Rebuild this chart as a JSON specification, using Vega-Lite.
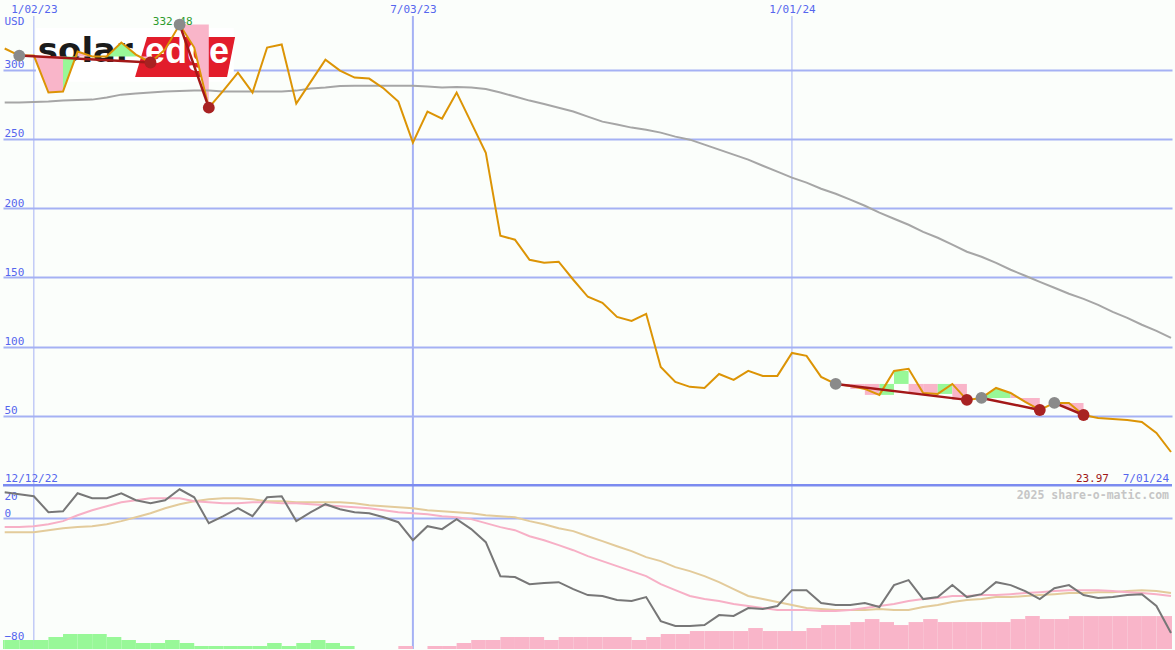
{
  "$schema": "https://vega.github.io/schema/vega-lite/v6.json",
  "width": 1175,
  "height": 650,
  "autosize": {"type": "fit", "contains": "padding"},
  "padding": 0,
  "background": "#fbfefb",
  "config": {"view": {"stroke": null}},
  "datasets": {
    "ticks": [{"g": "2023-01-02"}, {"g": "2023-07-03"}, {"g": "2024-01-01"}],
    "wk": [
      {"d": "2022-12-19", "p": 315.2, "m": 276.2, "o": 16.9, "k": -5.8, "t": -9.1},
      {"d": "2022-12-26", "p": 310.1, "m": 276.2, "o": 15.6, "k": -5.8, "t": -9.1},
      {"d": "2023-01-02", "p": 310.1, "m": 276.5, "o": 14.3, "k": -5.2, "t": -9.1},
      {"d": "2023-01-09", "p": 283.4, "m": 276.9, "o": 3.9, "k": -3.9, "t": -7.8},
      {"d": "2023-01-16", "p": 284.1, "m": 277.6, "o": 4.5, "k": -1.9, "t": -6.5},
      {"d": "2023-01-23", "p": 313.0, "m": 278.0, "o": 16.2, "k": 1.9, "t": -5.8},
      {"d": "2023-01-30", "p": 309.4, "m": 278.3, "o": 13.0, "k": 5.2, "t": -5.2},
      {"d": "2023-02-06", "p": 309.4, "m": 279.8, "o": 13.0, "k": 7.8, "t": -3.9},
      {"d": "2023-02-13", "p": 319.5, "m": 281.9, "o": 16.2, "k": 10.4, "t": -1.9},
      {"d": "2023-02-20", "p": 310.8, "m": 282.7, "o": 11.7, "k": 11.7, "t": 0.6},
      {"d": "2023-02-27", "p": 305.1, "m": 283.4, "o": 9.7, "k": 13.0, "t": 3.2},
      {"d": "2023-03-06", "p": 314.5, "m": 284.1, "o": 11.7, "k": 13.0, "t": 6.5},
      {"d": "2023-03-13", "p": 332.48, "m": 284.5, "o": 18.8, "k": 13.0, "t": 9.1},
      {"d": "2023-03-20", "p": 315.9, "m": 284.8, "o": 13.6, "k": 11.0, "t": 11.0},
      {"d": "2023-03-27", "p": 272.5, "m": 284.8, "o": -3.2, "k": 10.4, "t": 12.3},
      {"d": "2023-04-03", "p": 284.8, "m": 284.1, "o": 1.3, "k": 9.7, "t": 13.0},
      {"d": "2023-04-10", "p": 297.8, "m": 284.1, "o": 6.5, "k": 9.7, "t": 13.0},
      {"d": "2023-04-17", "p": 283.4, "m": 284.1, "o": 1.3, "k": 10.4, "t": 12.3},
      {"d": "2023-04-24", "p": 315.9, "m": 284.1, "o": 13.6, "k": 10.4, "t": 11.0},
      {"d": "2023-05-01", "p": 318.1, "m": 284.1, "o": 14.3, "k": 9.7, "t": 11.0},
      {"d": "2023-05-08", "p": 275.4, "m": 284.8, "o": -1.9, "k": 9.7, "t": 10.4},
      {"d": "2023-05-15", "p": 291.3, "m": 286.3, "o": 3.9, "k": 9.1, "t": 10.4},
      {"d": "2023-05-22", "p": 307.2, "m": 287.0, "o": 9.1, "k": 8.4, "t": 10.4},
      {"d": "2023-05-29", "p": 299.3, "m": 288.1, "o": 5.8, "k": 7.8, "t": 10.4},
      {"d": "2023-06-05", "p": 294.2, "m": 288.4, "o": 3.9, "k": 7.1, "t": 9.7},
      {"d": "2023-06-12", "p": 293.5, "m": 288.4, "o": 3.2, "k": 6.5, "t": 8.4},
      {"d": "2023-06-19", "p": 286.3, "m": 288.4, "o": 0.6, "k": 5.2, "t": 7.8},
      {"d": "2023-06-26", "p": 276.9, "m": 288.4, "o": -2.6, "k": 3.9, "t": 7.1},
      {"d": "2023-07-03", "p": 247.3, "m": 288.4, "o": -14.3, "k": 3.2, "t": 6.5},
      {"d": "2023-07-10", "p": 269.7, "m": 287.7, "o": -5.2, "k": 2.6, "t": 5.2},
      {"d": "2023-07-17", "p": 264.6, "m": 287.0, "o": -7.1, "k": 1.3, "t": 4.5},
      {"d": "2023-07-24", "p": 283.4, "m": 287.4, "o": -0.6, "k": 0.6, "t": 3.9},
      {"d": "2023-07-31", "p": 261.7, "m": 287.0, "o": -7.1, "k": -0.6, "t": 3.2},
      {"d": "2023-08-07", "p": 240.0, "m": 285.9, "o": -15.6, "k": -3.2, "t": 1.9},
      {"d": "2023-08-14", "p": 180.1, "m": 283.4, "o": -37.7, "k": -5.8, "t": 1.3},
      {"d": "2023-08-21", "p": 177.2, "m": 280.5, "o": -38.3, "k": -7.8, "t": 0.6},
      {"d": "2023-08-28", "p": 162.7, "m": 277.6, "o": -42.9, "k": -11.7, "t": -1.9},
      {"d": "2023-09-04", "p": 160.5, "m": 275.1, "o": -42.2, "k": -14.3, "t": -3.9},
      {"d": "2023-09-11", "p": 161.3, "m": 272.5, "o": -41.6, "k": -17.5, "t": -6.5},
      {"d": "2023-09-18", "p": 148.3, "m": 269.7, "o": -46.1, "k": -20.8, "t": -8.4},
      {"d": "2023-09-25", "p": 136.0, "m": 266.0, "o": -50.0, "k": -24.7, "t": -11.7},
      {"d": "2023-10-02", "p": 131.6, "m": 262.4, "o": -50.6, "k": -27.9, "t": -14.9},
      {"d": "2023-10-09", "p": 121.5, "m": 260.3, "o": -53.2, "k": -31.2, "t": -18.2},
      {"d": "2023-10-16", "p": 118.6, "m": 258.1, "o": -53.9, "k": -34.4, "t": -21.4},
      {"d": "2023-10-23", "p": 123.7, "m": 256.6, "o": -51.3, "k": -37.7, "t": -25.3},
      {"d": "2023-10-30", "p": 85.4, "m": 254.5, "o": -66.9, "k": -42.9, "t": -27.9},
      {"d": "2023-11-06", "p": 74.6, "m": 251.6, "o": -70.1, "k": -46.8, "t": -31.8},
      {"d": "2023-11-13", "p": 71.0, "m": 249.4, "o": -70.1, "k": -50.6, "t": -34.4},
      {"d": "2023-11-20", "p": 70.2, "m": 245.8, "o": -69.5, "k": -52.6, "t": -37.7},
      {"d": "2023-11-27", "p": 80.3, "m": 242.2, "o": -63.0, "k": -53.9, "t": -41.6},
      {"d": "2023-12-04", "p": 76.0, "m": 238.6, "o": -63.6, "k": -55.8, "t": -46.1},
      {"d": "2023-12-11", "p": 82.5, "m": 235.0, "o": -58.4, "k": -57.1, "t": -50.6},
      {"d": "2023-12-18", "p": 78.9, "m": 230.6, "o": -59.1, "k": -58.4, "t": -52.6},
      {"d": "2023-12-25", "p": 78.9, "m": 226.3, "o": -57.1, "k": -59.7, "t": -54.5},
      {"d": "2024-01-01", "p": 95.5, "m": 222.0, "o": -46.8, "k": -59.7, "t": -56.5},
      {"d": "2024-01-08", "p": 93.4, "m": 218.4, "o": -46.8, "k": -59.7, "t": -58.4},
      {"d": "2024-01-15", "p": 78.2, "m": 214.0, "o": -55.2, "k": -60.4, "t": -59.1},
      {"d": "2024-01-22", "p": 73.1, "m": 210.4, "o": -56.5, "k": -60.4, "t": -59.7},
      {"d": "2024-01-29", "p": 71.7, "m": 206.1, "o": -56.5, "k": -59.7, "t": -59.7},
      {"d": "2024-02-05", "p": 69.5, "m": 201.7, "o": -55.2, "k": -58.4, "t": -59.7},
      {"d": "2024-02-12", "p": 65.2, "m": 196.7, "o": -57.8, "k": -57.1, "t": -59.1},
      {"d": "2024-02-19", "p": 82.5, "m": 192.3, "o": -43.5, "k": -55.8, "t": -59.7},
      {"d": "2024-02-26", "p": 84.0, "m": 188.0, "o": -40.3, "k": -53.9, "t": -59.7},
      {"d": "2024-03-04", "p": 66.6, "m": 182.9, "o": -52.6, "k": -52.6, "t": -57.8},
      {"d": "2024-03-11", "p": 65.9, "m": 178.6, "o": -51.3, "k": -51.9, "t": -56.5},
      {"d": "2024-03-18", "p": 73.1, "m": 173.6, "o": -43.5, "k": -50.6, "t": -54.5},
      {"d": "2024-03-25", "p": 61.6, "m": 168.5, "o": -51.3, "k": -50.6, "t": -53.2},
      {"d": "2024-04-01", "p": 63.0, "m": 164.9, "o": -49.4, "k": -50.0, "t": -52.6},
      {"d": "2024-04-08", "p": 70.2, "m": 160.5, "o": -41.6, "k": -50.0, "t": -51.3},
      {"d": "2024-04-15", "p": 66.6, "m": 155.5, "o": -43.5, "k": -49.4, "t": -51.3},
      {"d": "2024-04-22", "p": 60.1, "m": 151.2, "o": -47.4, "k": -48.7, "t": -50.6},
      {"d": "2024-04-29", "p": 54.3, "m": 146.8, "o": -52.6, "k": -48.1, "t": -50.0},
      {"d": "2024-05-06", "p": 59.4, "m": 142.5, "o": -45.5, "k": -47.4, "t": -49.4},
      {"d": "2024-05-13", "p": 59.4, "m": 138.2, "o": -43.5, "k": -46.8, "t": -48.7},
      {"d": "2024-05-20", "p": 50.7, "m": 134.5, "o": -50.0, "k": -46.8, "t": -48.7},
      {"d": "2024-05-27", "p": 48.6, "m": 130.2, "o": -51.9, "k": -46.8, "t": -48.1},
      {"d": "2024-06-03", "p": 47.8, "m": 125.1, "o": -51.3, "k": -47.4, "t": -48.1},
      {"d": "2024-06-10", "p": 47.1, "m": 120.8, "o": -50.0, "k": -48.1, "t": -47.4},
      {"d": "2024-06-17", "p": 45.7, "m": 115.8, "o": -49.4, "k": -48.7, "t": -46.8},
      {"d": "2024-06-24", "p": 37.7, "m": 111.4, "o": -57.1, "k": -49.4, "t": -47.4},
      {"d": "2024-07-01", "p": 23.97, "m": 106.4, "o": -74.7, "k": -50.6, "t": -48.7}
    ],
    "hist": [
      {"d": "2022-12-12", "e": "2022-12-19", "h": 3, "c": "up"},
      {"d": "2022-12-19", "e": "2022-12-26", "h": 3, "c": "up"},
      {"d": "2022-12-26", "e": "2023-01-02", "h": 3, "c": "up"},
      {"d": "2023-01-02", "e": "2023-01-09", "h": 3, "c": "up"},
      {"d": "2023-01-09", "e": "2023-01-16", "h": 4, "c": "up"},
      {"d": "2023-01-16", "e": "2023-01-23", "h": 5, "c": "up"},
      {"d": "2023-01-23", "e": "2023-01-30", "h": 5, "c": "up"},
      {"d": "2023-01-30", "e": "2023-02-06", "h": 5, "c": "up"},
      {"d": "2023-02-06", "e": "2023-02-13", "h": 4, "c": "up"},
      {"d": "2023-02-13", "e": "2023-02-20", "h": 3, "c": "up"},
      {"d": "2023-02-20", "e": "2023-02-27", "h": 2, "c": "up"},
      {"d": "2023-02-27", "e": "2023-03-06", "h": 2, "c": "up"},
      {"d": "2023-03-06", "e": "2023-03-13", "h": 3, "c": "up"},
      {"d": "2023-03-13", "e": "2023-03-20", "h": 2, "c": "up"},
      {"d": "2023-03-20", "e": "2023-03-27", "h": 1, "c": "up"},
      {"d": "2023-03-27", "e": "2023-04-03", "h": 1, "c": "up"},
      {"d": "2023-04-03", "e": "2023-04-10", "h": 1, "c": "up"},
      {"d": "2023-04-10", "e": "2023-04-17", "h": 1, "c": "up"},
      {"d": "2023-04-17", "e": "2023-04-24", "h": 1, "c": "up"},
      {"d": "2023-04-24", "e": "2023-05-01", "h": 2, "c": "up"},
      {"d": "2023-05-01", "e": "2023-05-08", "h": 1, "c": "up"},
      {"d": "2023-05-08", "e": "2023-05-15", "h": 2, "c": "up"},
      {"d": "2023-05-15", "e": "2023-05-22", "h": 3, "c": "up"},
      {"d": "2023-05-22", "e": "2023-05-29", "h": 2, "c": "up"},
      {"d": "2023-05-29", "e": "2023-06-05", "h": 1, "c": "up"},
      {"d": "2023-06-26", "e": "2023-07-03", "h": 1, "c": "down"},
      {"d": "2023-07-10", "e": "2023-07-17", "h": 1, "c": "down"},
      {"d": "2023-07-17", "e": "2023-07-24", "h": 1, "c": "down"},
      {"d": "2023-07-24", "e": "2023-07-31", "h": 2, "c": "down"},
      {"d": "2023-07-31", "e": "2023-08-07", "h": 3, "c": "down"},
      {"d": "2023-08-07", "e": "2023-08-14", "h": 3, "c": "down"},
      {"d": "2023-08-14", "e": "2023-08-21", "h": 4, "c": "down"},
      {"d": "2023-08-21", "e": "2023-08-28", "h": 4, "c": "down"},
      {"d": "2023-08-28", "e": "2023-09-04", "h": 4, "c": "down"},
      {"d": "2023-09-04", "e": "2023-09-11", "h": 3, "c": "down"},
      {"d": "2023-09-11", "e": "2023-09-18", "h": 4, "c": "down"},
      {"d": "2023-09-18", "e": "2023-09-25", "h": 4, "c": "down"},
      {"d": "2023-09-25", "e": "2023-10-02", "h": 4, "c": "down"},
      {"d": "2023-10-02", "e": "2023-10-09", "h": 4, "c": "down"},
      {"d": "2023-10-09", "e": "2023-10-16", "h": 4, "c": "down"},
      {"d": "2023-10-16", "e": "2023-10-23", "h": 3, "c": "down"},
      {"d": "2023-10-23", "e": "2023-10-30", "h": 4, "c": "down"},
      {"d": "2023-10-30", "e": "2023-11-06", "h": 5, "c": "down"},
      {"d": "2023-11-06", "e": "2023-11-13", "h": 5, "c": "down"},
      {"d": "2023-11-13", "e": "2023-11-20", "h": 6, "c": "down"},
      {"d": "2023-11-20", "e": "2023-11-27", "h": 6, "c": "down"},
      {"d": "2023-11-27", "e": "2023-12-04", "h": 6, "c": "down"},
      {"d": "2023-12-04", "e": "2023-12-11", "h": 6, "c": "down"},
      {"d": "2023-12-11", "e": "2023-12-18", "h": 7, "c": "down"},
      {"d": "2023-12-18", "e": "2023-12-25", "h": 6, "c": "down"},
      {"d": "2023-12-25", "e": "2024-01-01", "h": 6, "c": "down"},
      {"d": "2024-01-01", "e": "2024-01-08", "h": 6, "c": "down"},
      {"d": "2024-01-08", "e": "2024-01-15", "h": 7, "c": "down"},
      {"d": "2024-01-15", "e": "2024-01-22", "h": 8, "c": "down"},
      {"d": "2024-01-22", "e": "2024-01-29", "h": 8, "c": "down"},
      {"d": "2024-01-29", "e": "2024-02-05", "h": 9, "c": "down"},
      {"d": "2024-02-05", "e": "2024-02-12", "h": 10, "c": "down"},
      {"d": "2024-02-12", "e": "2024-02-19", "h": 9, "c": "down"},
      {"d": "2024-02-19", "e": "2024-02-26", "h": 8, "c": "down"},
      {"d": "2024-02-26", "e": "2024-03-04", "h": 9, "c": "down"},
      {"d": "2024-03-04", "e": "2024-03-11", "h": 10, "c": "down"},
      {"d": "2024-03-11", "e": "2024-03-18", "h": 9, "c": "down"},
      {"d": "2024-03-18", "e": "2024-03-25", "h": 9, "c": "down"},
      {"d": "2024-03-25", "e": "2024-04-01", "h": 9, "c": "down"},
      {"d": "2024-04-01", "e": "2024-04-08", "h": 9, "c": "down"},
      {"d": "2024-04-08", "e": "2024-04-15", "h": 9, "c": "down"},
      {"d": "2024-04-15", "e": "2024-04-22", "h": 10, "c": "down"},
      {"d": "2024-04-22", "e": "2024-04-29", "h": 11, "c": "down"},
      {"d": "2024-04-29", "e": "2024-05-06", "h": 10, "c": "down"},
      {"d": "2024-05-06", "e": "2024-05-13", "h": 10, "c": "down"},
      {"d": "2024-05-13", "e": "2024-05-20", "h": 11, "c": "down"},
      {"d": "2024-05-20", "e": "2024-05-27", "h": 11, "c": "down"},
      {"d": "2024-05-27", "e": "2024-06-03", "h": 11, "c": "down"},
      {"d": "2024-06-03", "e": "2024-06-10", "h": 11, "c": "down"},
      {"d": "2024-06-10", "e": "2024-06-17", "h": 11, "c": "down"},
      {"d": "2024-06-17", "e": "2024-06-24", "h": 11, "c": "down"},
      {"d": "2024-06-24", "e": "2024-07-01", "h": 11, "c": "down"},
      {"d": "2024-07-01", "e": "2024-07-08", "h": 11, "c": "down"}
    ],
    "fills": [
      {"g": 1, "c": "down", "d": "2023-01-02", "a": 309.4, "b": 310.1},
      {"g": 1, "c": "down", "d": "2023-01-09", "a": 309.4, "b": 283.4},
      {"g": 1, "c": "down", "d": "2023-01-16", "a": 309.4, "b": 284.1},
      {"g": 2, "c": "up", "d": "2023-01-16", "a": 309.4, "b": 284.1},
      {"g": 2, "c": "up", "d": "2023-01-23", "a": 309.4, "b": 313.0},
      {"g": 3, "c": "down", "d": "2023-01-23", "a": 309.4, "b": 313.0},
      {"g": 3, "c": "down", "d": "2023-01-30", "a": 309.4, "b": 309.4},
      {"g": 4, "c": "up", "d": "2023-02-06", "a": 309.4, "b": 309.4},
      {"g": 4, "c": "up", "d": "2023-02-13", "a": 309.4, "b": 319.5},
      {"g": 4, "c": "up", "d": "2023-02-20", "a": 309.4, "b": 310.8},
      {"g": 5, "c": "down", "d": "2023-02-20", "a": 309.4, "b": 310.8},
      {"g": 5, "c": "down", "d": "2023-02-27", "a": 309.4, "b": 305.1},
      {"g": 6, "c": "down", "d": "2023-03-13", "a": 332.48, "b": 332.48},
      {"g": 6, "c": "down", "d": "2023-03-20", "a": 332.48, "b": 315.9},
      {"g": 6, "c": "down", "d": "2023-03-27", "a": 332.48, "b": 272.5},
      {"g": 7, "c": "down", "d": "2024-01-22", "a": 73.1, "b": 71.7},
      {"g": 7, "c": "down", "d": "2024-01-29", "a": 73.1, "b": 71.7},
      {"g": 8, "c": "down", "d": "2024-01-29", "a": 73.1, "b": 69.5},
      {"g": 8, "c": "down", "d": "2024-02-05", "a": 73.1, "b": 69.5},
      {"g": 9, "c": "down", "d": "2024-02-05", "a": 73.1, "b": 65.2},
      {"g": 9, "c": "down", "d": "2024-02-12", "a": 73.1, "b": 65.2},
      {"g": 10, "c": "up", "d": "2024-02-12", "a": 73.1, "b": 65.2},
      {"g": 10, "c": "up", "d": "2024-02-19", "a": 73.1, "b": 65.2},
      {"g": 11, "c": "up", "d": "2024-02-19", "a": 73.1, "b": 82.5},
      {"g": 11, "c": "up", "d": "2024-02-26", "a": 73.1, "b": 82.5},
      {"g": 12, "c": "down", "d": "2024-02-26", "a": 73.1, "b": 66.6},
      {"g": 12, "c": "down", "d": "2024-03-04", "a": 73.1, "b": 66.6},
      {"g": 13, "c": "down", "d": "2024-03-04", "a": 73.1, "b": 65.9},
      {"g": 13, "c": "down", "d": "2024-03-11", "a": 73.1, "b": 65.9},
      {"g": 14, "c": "up", "d": "2024-03-11", "a": 73.1, "b": 65.9},
      {"g": 14, "c": "up", "d": "2024-03-18", "a": 73.1, "b": 65.9},
      {"g": 15, "c": "down", "d": "2024-03-18", "a": 73.1, "b": 61.6},
      {"g": 15, "c": "down", "d": "2024-03-25", "a": 73.1, "b": 61.6},
      {"g": 16, "c": "up", "d": "2024-04-01", "a": 63.0, "b": 63.0},
      {"g": 16, "c": "up", "d": "2024-04-08", "a": 63.0, "b": 70.2},
      {"g": 16, "c": "up", "d": "2024-04-15", "a": 63.0, "b": 66.6},
      {"g": 17, "c": "down", "d": "2024-04-15", "a": 63.0, "b": 66.6},
      {"g": 17, "c": "down", "d": "2024-04-22", "a": 63.0, "b": 60.1},
      {"g": 17, "c": "down", "d": "2024-04-29", "a": 63.0, "b": 54.3},
      {"g": 18, "c": "down", "d": "2024-05-06", "a": 59.4, "b": 59.4},
      {"g": 18, "c": "down", "d": "2024-05-13", "a": 59.4, "b": 55.4},
      {"g": 18, "c": "down", "d": "2024-05-20", "a": 59.4, "b": 50.7}
    ],
    "trend": [
      {"g": 1, "d": "2022-12-26", "v": 310.1},
      {"g": 1, "d": "2023-02-27", "v": 305.1},
      {"g": 2, "d": "2023-03-13", "v": 332.48},
      {"g": 2, "d": "2023-03-27", "v": 272.5},
      {"g": 3, "d": "2024-01-22", "v": 73.1},
      {"g": 3, "d": "2024-03-25", "v": 61.6},
      {"g": 4, "d": "2024-04-01", "v": 63.0},
      {"g": 4, "d": "2024-04-29", "v": 54.3},
      {"g": 5, "d": "2024-05-06", "v": 59.4},
      {"g": 5, "d": "2024-05-20", "v": 50.7}
    ],
    "dots": [
      {"k": "s", "d": "2022-12-26", "v": 310.1},
      {"k": "e", "d": "2023-02-27", "v": 305.1},
      {"k": "s", "d": "2023-03-13", "v": 332.48},
      {"k": "e", "d": "2023-03-27", "v": 272.5},
      {"k": "s", "d": "2024-01-22", "v": 73.1},
      {"k": "e", "d": "2024-03-25", "v": 61.6},
      {"k": "s", "d": "2024-04-01", "v": 63.0},
      {"k": "e", "d": "2024-04-29", "v": 54.3},
      {"k": "s", "d": "2024-05-06", "v": 59.4},
      {"k": "e", "d": "2024-05-20", "v": 50.7}
    ],
    "one": [{}]
  },
  "resolve": {"scale": {"y": "independent"}},
  "layer": [
    {
      "layer": [
        {
          "data": {"name": "ticks"},
          "mark": {"type": "rule", "color": "#a5b1f4"},
          "encoding": {
            "x": {
              "field": "g", "type": "temporal",
              "scale": {"type": "utc", "domain": [
                {"year": 2022, "month": 12, "date": 18, "hours": 4, "minutes": 30, "utc": true},
                {"year": 2024, "month": 7, "date": 1, "hours": 11, "minutes": 30, "utc": true}]},
              "axis": {
                "orient": "top",
                "values": [
                  {"year": 2023, "month": 1, "date": 2, "utc": true},
                  {"year": 2023, "month": 7, "date": 3, "utc": true},
                  {"year": 2024, "month": 1, "date": 1, "utc": true}],
                "labelExpr": "utcFormat(datum.value, '%-m/%d/%y')",
                "title": null, "grid": false, "domain": false, "ticks": false, "tickSize": 0,
                "labelPadding": -12, "labelBaseline": "alphabetic", "labelAlign": "center",
                "labelColor": "#5566ee", "labelFont": "DejaVu Sans Mono", "labelFontSize": 11,
                "labelFlush": false, "labelOverlap": false, "labelBound": false
              }
            },
            "y": {"datum": 211.33, "type": "quantitative", "scale": {"domain": [0, 216.67], "nice": false, "zero": false}, "axis": null},
            "y2": {"datum": 0},
            "strokeWidth": {"condition": {"test": "utcmonth(datum.g) == 6", "value": 2}, "value": 1}
          }
        },
        {
          "data": {"name": "hist"},
          "mark": {"type": "rect", "clip": true},
          "encoding": {
            "x": {"field": "d", "type": "temporal"},
            "x2": {"field": "e"},
            "y": {"field": "h", "type": "quantitative", "axis": null},
            "y2": {"datum": 0},
            "color": {"field": "c", "type": "nominal", "scale": {"domain": ["up", "down"], "range": ["#98f898", "#f9b5c9"]}, "legend": null}
          }
        }
      ]
    },
    {
      "layer": [
        {
          "data": {"name": "wk"},
          "mark": {"type": "line", "color": "#e3cb9b", "strokeWidth": 2},
          "encoding": {
            "x": {"field": "d", "type": "temporal"},
            "y": {
              "field": "t", "type": "quantitative",
              "scale": {"domain": [-85.06, 337.0], "nice": false, "zero": false},
              "axis": {
                "orient": "left", "values": [20, 0, -80], "title": null,
                "grid": true, "gridColor": "#a5b1f4", "gridWidth": 2,
                "gridOpacity": {"condition": {"test": "datum.value === 0", "value": 1}, "value": 0},
                "domain": false, "ticks": false, "tickSize": 0,
                "labelAlign": "left", "labelBaseline": "alphabetic", "labelPadding": -1,
                "labelOffset": {"condition": {"test": "datum.value > 10", "value": 12}, "value": -2},
                "labelColor": "#5566ee", "labelFont": "DejaVu Sans Mono", "labelFontSize": 11,
                "labelFlush": false, "labelOverlap": false, "labelBound": false
              }
            }
          }
        },
        {
          "data": {"name": "wk"},
          "mark": {"type": "line", "color": "#f7b0c6", "strokeWidth": 2},
          "encoding": {
            "x": {"field": "d", "type": "temporal"},
            "y": {"field": "k", "type": "quantitative"}
          }
        },
        {
          "data": {"name": "wk"},
          "mark": {"type": "line", "color": "#777777", "strokeWidth": 2},
          "encoding": {
            "x": {"field": "d", "type": "temporal"},
            "y": {"field": "o", "type": "quantitative"}
          }
        },
        {
          "data": {"name": "one"},
          "mark": {"type": "text", "text": "2025 share-o-matic.com", "align": "right", "baseline": "alphabetic", "dx": -3, "font": "DejaVu Sans Mono", "fontWeight": "bold", "fontSize": 11.5, "color": "#c6c6c6"},
          "encoding": {
            "x": {"datum": {"year": 2024, "month": 7, "date": 1, "hours": 11, "minutes": 30, "utc": true}},
            "y": {"datum": 12.5, "type": "quantitative"}
          }
        }
      ]
    },
    {
      "layer": [
        {
          "data": {"name": "one"},
          "mark": {"type": "rect", "color": "#ffffff"},
          "encoding": {
            "x": {"datum": {"year": 2023, "month": 1, "date": 3, "utc": true}},
            "x2": {"datum": {"year": 2023, "month": 4, "date": 8, "utc": true}},
            "y": {"datum": 330.0, "type": "quantitative"},
            "y2": {"datum": 291.2}
          }
        },
        {
          "data": {"name": "one"},
          "mark": {"type": "point", "shape": "M -1 0.4 L -0.76 -0.4 L 1 -0.4 L 0.84 0.4 Z", "size": 10000, "filled": true, "color": "#e21d2b", "opacity": 1, "strokeWidth": 0},
          "encoding": {
            "x": {"datum": {"year": 2023, "month": 3, "date": 15, "hours": 14, "minutes": 30, "utc": true}},
            "y": {"datum": 309.1, "type": "quantitative"}
          }
        },
        {
          "data": {"name": "one"},
          "mark": {"type": "text", "text": "solar", "align": "left", "baseline": "alphabetic", "font": "DejaVu Sans", "fontWeight": "bold", "fontSize": 34, "color": "#1b1b1b"},
          "encoding": {
            "x": {"datum": {"year": 2023, "month": 1, "date": 3, "hours": 22, "utc": true}},
            "y": {"datum": 305.5, "type": "quantitative"}
          }
        },
        {
          "data": {"name": "one"},
          "mark": {"type": "text", "text": "edge", "align": "center", "baseline": "alphabetic", "font": "Liberation Sans", "fontWeight": "bold", "fontSize": 36, "color": "#ffffff"},
          "encoding": {
            "x": {"datum": {"year": 2023, "month": 3, "date": 16, "hours": 13, "minutes": 30, "utc": true}},
            "y": {"datum": 304.8, "type": "quantitative"}
          }
        },
        {
          "data": {"name": "fills"},
          "mark": {"type": "area", "interpolate": "linear", "opacity": 1},
          "encoding": {
            "x": {"field": "d", "type": "temporal"},
            "y": {"field": "a", "type": "quantitative", "stack": null},
            "y2": {"field": "b"},
            "detail": {"field": "g", "type": "nominal"},
            "color": {"field": "c", "type": "nominal", "scale": {"domain": ["up", "down"], "range": ["#98f898", "#f9b5c9"]}, "legend": null}
          }
        },
        {
          "data": {"name": "wk"},
          "mark": {"type": "line", "color": "#a6a6a6", "strokeWidth": 2},
          "encoding": {
            "x": {"field": "d", "type": "temporal"},
            "y": {
              "field": "m", "type": "quantitative",
              "scale": {"domain": [-118.2, 350.2], "nice": false, "zero": false},
              "axis": {
                "orient": "left", "values": [50, 100, 150, 200, 250, 300],
                "title": "USD", "titleAngle": 0, "titleAlign": "left", "titleBaseline": "alphabetic",
                "titleX": 1, "titleY": 24, "titleColor": "#5566ee", "titleFont": "DejaVu Sans Mono",
                "titleFontSize": 11, "titleFontWeight": "normal",
                "grid": true, "gridColor": "#a5b1f4", "gridWidth": 2,
                "domain": false, "ticks": false, "tickSize": 0,
                "labelAlign": "left", "labelBaseline": "alphabetic", "labelPadding": -1, "labelOffset": -2,
                "labelColor": "#5566ee", "labelFont": "DejaVu Sans Mono", "labelFontSize": 11,
                "labelFlush": false, "labelOverlap": false, "labelBound": false
              }
            }
          }
        },
        {
          "data": {"name": "wk"},
          "mark": {"type": "line", "color": "#dc9405", "strokeWidth": 2},
          "encoding": {
            "x": {"field": "d", "type": "temporal"},
            "y": {"field": "p", "type": "quantitative"}
          }
        },
        {
          "data": {"name": "trend"},
          "mark": {"type": "line", "color": "#a31818", "strokeWidth": 2.5},
          "encoding": {
            "x": {"field": "d", "type": "temporal"},
            "y": {"field": "v", "type": "quantitative"},
            "detail": {"field": "g", "type": "nominal"}
          }
        },
        {
          "data": {"name": "one"},
          "mark": {"type": "text", "text": "332.48", "align": "center", "baseline": "alphabetic", "dx": -7, "font": "DejaVu Sans Mono", "fontSize": 11, "color": "#2e9b2e"},
          "encoding": {
            "x": {"datum": {"year": 2023, "month": 3, "date": 13, "utc": true}},
            "y": {"datum": 332.2, "type": "quantitative"}
          }
        },
        {
          "data": {"name": "dots"},
          "mark": {"type": "point", "filled": true, "size": 140, "opacity": 1, "strokeWidth": 0},
          "encoding": {
            "x": {"field": "d", "type": "temporal"},
            "y": {"field": "v", "type": "quantitative"},
            "color": {"condition": {"test": "datum.k === 's'", "value": "#8a8a8a"}, "value": "#a82222"}
          }
        },
        {
          "data": {"name": "one"},
          "mark": {"type": "text", "text": "12/12/22", "align": "left", "baseline": "alphabetic", "dx": 2, "font": "DejaVu Sans Mono", "fontSize": 11, "color": "#5566ee"},
          "encoding": {
            "x": {"datum": {"year": 2022, "month": 12, "date": 18, "hours": 4, "minutes": 30, "utc": true}},
            "y": {"datum": 2.2, "type": "quantitative"}
          }
        },
        {
          "data": {"name": "one"},
          "mark": {"type": "text", "text": "7/01/24", "align": "right", "baseline": "alphabetic", "dx": -3, "font": "DejaVu Sans Mono", "fontSize": 11, "color": "#5566ee"},
          "encoding": {
            "x": {"datum": {"year": 2024, "month": 7, "date": 1, "hours": 11, "minutes": 30, "utc": true}},
            "y": {"datum": 2.2, "type": "quantitative"}
          }
        },
        {
          "data": {"name": "one"},
          "mark": {"type": "text", "text": "23.97", "align": "right", "baseline": "alphabetic", "dx": -63, "font": "DejaVu Sans Mono", "fontSize": 11, "color": "#a01818"},
          "encoding": {
            "x": {"datum": {"year": 2024, "month": 7, "date": 1, "hours": 11, "minutes": 30, "utc": true}},
            "y": {"datum": 2.2, "type": "quantitative"}
          }
        },
        {
          "data": {"name": "one"},
          "mark": {"type": "rule", "color": "#7b8bf0", "strokeWidth": 2.5},
          "encoding": {
            "y": {"datum": 0, "type": "quantitative"}
          }
        }
      ]
    }
  ]
}
